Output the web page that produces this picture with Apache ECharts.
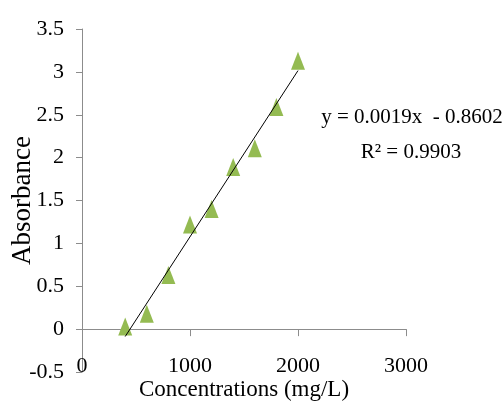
<!DOCTYPE html>
<html>
<head>
<meta charset="utf-8">
<script src="https://cdn.jsdelivr.net/npm/echarts@6/dist/echarts.min.js"></script>
<style>
html,body{margin:0;padding:0;background:#fff;}
#chart{width:502px;height:405px;}
</style>
</head>
<body>
<div id="chart"></div>
<script>
// Data
var concentrations = [400, 600, 800, 1000, 1200, 1400, 1600, 1800, 2000];
var absorbance = [0.03, 0.18, 0.63, 1.22, 1.40, 1.89, 2.11, 2.59, 3.13];
var xTicks = [0, 1000, 2000, 3000];
var yTicks = [-0.5, 0, 0.5, 1, 1.5, 2, 2.5, 3, 3.5];
var equationText = 'y = 0.0019x  - 0.8602';
var r2Text = 'R² = 0.9903';
var xTitle = 'Concentrations (mg/L)';
var yTitle = 'Absorbance';

// Least-squares trendline through the data
var n = concentrations.length;
var mx = concentrations.reduce(function(a,b){return a+b;},0)/n;
var my = absorbance.reduce(function(a,b){return a+b;},0)/n;
var sxy = 0, sxx = 0;
for (var i = 0; i < n; i++) {
  sxy += (concentrations[i]-mx)*(absorbance[i]-my);
  sxx += (concentrations[i]-mx)*(concentrations[i]-mx);
}
var slope = sxy/sxx, intercept = my - slope*mx;
var xMin = Math.min.apply(null, concentrations), xMax = Math.max.apply(null, concentrations);
var trend = [[xMin, slope*xMin+intercept],[xMax, slope*xMax+intercept]];

var points = concentrations.map(function(c,i){return [c, absorbance[i]];});
var font = '"Liberation Serif", "Times New Roman", serif';

var chart = echarts.init(document.getElementById('chart'), null, {renderer:'canvas'});
chart.setOption({
  animation: false,
  backgroundColor: '#ffffff',
  grid: {left: 82, right: 96, top: 29, bottom: 33, containLabel: false, outerBoundsMode: 'none'},
  xAxis: {
    type: 'value', min: xTicks[0], max: xTicks[xTicks.length-1], interval: 1000,
    axisLine: {show: true, onZero: true, lineStyle: {color: '#8c8c8c', width: 1}},
    axisTick: {show: true, inside: false, length: 7, lineStyle: {color: '#8c8c8c'}},
    axisLabel: {color: '#000', fontFamily: font, fontSize: 22, margin: -17,
      formatter: function(v){return String(v);}},
    splitLine: {show: false},
    name: xTitle, nameLocation: 'middle', nameGap: 6, nameMoveOverlap: false,
    nameTextStyle: {color: '#000', fontFamily: font, fontSize: 23}
  },
  yAxis: {
    type: 'value', min: yTicks[0], max: yTicks[yTicks.length-1], interval: 0.5,
    axisLine: {show: true, onZero: false, lineStyle: {color: '#8c8c8c', width: 1}},
    axisTick: {show: true, inside: false, length: 6, lineStyle: {color: '#8c8c8c'}},
    axisLabel: {color: '#000', fontFamily: font, fontSize: 22, margin: 18,
      formatter: function(v){return String(v);}},
    splitLine: {show: false},
    name: yTitle, nameLocation: 'middle', nameRotate: 90, nameGap: 46, nameMoveOverlap: false,
    nameTextStyle: {color: '#000', fontFamily: font, fontSize: 27}
  },
  series: [
    {
      type: 'line', data: trend, showSymbol: false, symbol: 'none',
      lineStyle: {color: '#000', width: 1}, z: 3, silent: true
    },
    {
      type: 'scatter', data: points, symbol: 'triangle', symbolSize: [14, 18],
      itemStyle: {color: '#94bb52', opacity: 1}, z: 2
    }
  ],
  graphic: [
    {type: 'text', x: 412, y: 117, style: {text: equationText, fill: '#000', font: '21px ' + font, align: 'center', verticalAlign: 'middle'}},
    {type: 'text', x: 411, y: 152, style: {text: r2Text, fill: '#000', font: '21px ' + font, align: 'center', verticalAlign: 'middle'}}
  ]
});
</script>
</body>
</html>
